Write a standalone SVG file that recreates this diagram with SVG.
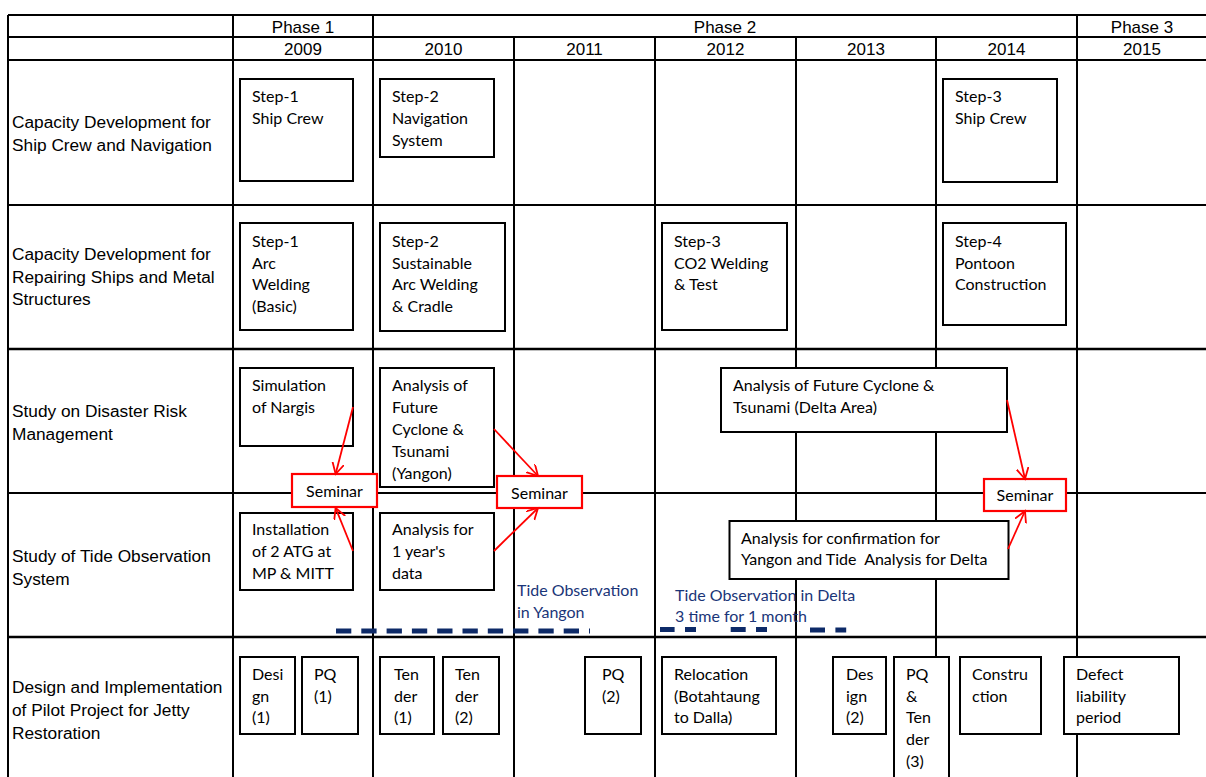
<svg xmlns="http://www.w3.org/2000/svg" width="1206" height="777" viewBox="0 0 1206 777">
<defs>
<style>
.g{stroke:#000;stroke-width:2;fill:none}
.gt{stroke:#000;stroke-width:2.6;fill:none}
.hd{font-family:"Liberation Sans",Arial,sans-serif;font-size:17px;fill:#000;text-anchor:middle}
.lb{font-family:"Liberation Sans",Arial,sans-serif;font-size:17.3px;fill:#000}
.bx{fill:#fff;stroke:#000;stroke-width:2}
.sb{fill:#fff;stroke:#f00;stroke-width:2.2}
.t{font-family:Lato,"Open Sans",sans-serif;font-size:16px;fill:#000}
.tc{font-family:Lato,"Open Sans",sans-serif;font-size:16px;fill:#000;text-anchor:middle}
.bl{font-family:Lato,"Open Sans",sans-serif;font-size:16px;fill:#1a3578}
.ar{stroke:#f00;stroke-width:1.8;fill:none}
.ds{stroke:#0d2a68;stroke-width:5;fill:none}
</style>
<marker id="ah" markerUnits="userSpaceOnUse" markerWidth="14" markerHeight="14" refX="11" refY="6" orient="auto">
<path d="M0,0 L11,6 L0,12" fill="none" stroke="#f00" stroke-width="1.8"/>
</marker>
</defs>
<rect width="1206" height="777" fill="#fff"/>
<g id="grid">
<line class="g" x1="8" y1="15" x2="1206" y2="15"/>
<line class="g" x1="8" y1="37" x2="1206" y2="37"/>
<line class="g" x1="8" y1="60" x2="1206" y2="60"/>
<line class="g" x1="8" y1="205" x2="1206" y2="205"/>
<line class="gt" x1="8" y1="349" x2="1206" y2="349"/>
<line class="g" x1="8" y1="493" x2="1206" y2="493"/>
<line class="gt" x1="8" y1="637" x2="1206" y2="637"/>
<line class="g" x1="8" y1="15" x2="8" y2="777"/>
<line class="g" x1="233" y1="15" x2="233" y2="777"/>
<line class="g" x1="373" y1="15" x2="373" y2="777"/>
<line class="g" x1="514" y1="37" x2="514" y2="777"/>
<line class="g" x1="655" y1="37" x2="655" y2="777"/>
<line class="g" x1="796" y1="37" x2="796" y2="777"/>
<line class="g" x1="936" y1="37" x2="936" y2="777"/>
<line class="g" x1="1077" y1="15" x2="1077" y2="777"/>
</g>
<g id="header">
<text class="hd" x="303" y="33">Phase 1</text>
<text class="hd" x="725" y="33">Phase 2</text>
<text class="hd" x="1142" y="33">Phase 3</text>
<text class="hd" x="303" y="55">2009</text>
<text class="hd" x="443.5" y="55">2010</text>
<text class="hd" x="584.5" y="55">2011</text>
<text class="hd" x="725.5" y="55">2012</text>
<text class="hd" x="866" y="55">2013</text>
<text class="hd" x="1006.5" y="55">2014</text>
<text class="hd" x="1142" y="55">2015</text>
</g>
<g id="row-labels">
<text class="lb" x="12"><tspan x="12" y="128">Capacity Development for</tspan><tspan x="12" y="150.5">Ship Crew and Navigation</tspan></text>
<text class="lb" x="12"><tspan x="12" y="260">Capacity Development for</tspan><tspan x="12" y="282.5">Repairing Ships and Metal</tspan><tspan x="12" y="305">Structures</tspan></text>
<text class="lb" x="12"><tspan x="12" y="417">Study on Disaster Risk</tspan><tspan x="12" y="439.5">Management</tspan></text>
<text class="lb" x="12"><tspan x="12" y="562">Study of Tide Observation</tspan><tspan x="12" y="584.5">System</tspan></text>
<text class="lb" x="12"><tspan x="12" y="693">Design and Implementation</tspan><tspan x="12" y="716">of Pilot Project for Jetty</tspan><tspan x="12" y="739">Restoration</tspan></text>
</g>
<g id="n-step1-crew"><rect class="bx" x="240" y="79" width="113" height="102"/><text class="t"><tspan x="252" y="102">Step-1</tspan><tspan x="252" y="124">Ship Crew</tspan></text></g>
<g id="n-step2-nav"><rect class="bx" x="380" y="79" width="114" height="78"/><text class="t"><tspan x="392" y="102">Step-2</tspan><tspan x="392" y="124">Navigation</tspan><tspan x="392" y="146">System</tspan></text></g>
<g id="n-step3-crew"><rect class="bx" x="943" y="79" width="114" height="103"/><text class="t"><tspan x="955" y="102">Step-3</tspan><tspan x="955" y="124">Ship Crew</tspan></text></g>
<g id="n-step1-arc"><rect class="bx" x="240" y="223" width="113" height="107"/><text class="t"><tspan x="252" y="247">Step-1</tspan><tspan x="252" y="268.5">Arc</tspan><tspan x="252" y="290">Welding</tspan><tspan x="252" y="312">(Basic)</tspan></text></g>
<g id="n-step2-arc"><rect class="bx" x="380" y="223" width="125" height="108"/><text class="t"><tspan x="392" y="247">Step-2</tspan><tspan x="392" y="268.5">Sustainable</tspan><tspan x="392" y="290">Arc Welding</tspan><tspan x="392" y="312">&amp; Cradle</tspan></text></g>
<g id="n-step3-co2"><rect class="bx" x="662" y="223" width="125" height="107"/><text class="t"><tspan x="674" y="247">Step-3</tspan><tspan x="674" y="268.5">CO2 Welding</tspan><tspan x="674" y="290">&amp; Test</tspan></text></g>
<g id="n-step4-pontoon"><rect class="bx" x="943" y="223" width="123" height="102"/><text class="t"><tspan x="955" y="247">Step-4</tspan><tspan x="955" y="268.5">Pontoon</tspan><tspan x="955" y="290">Construction</tspan></text></g>
<g id="n-nargis"><rect class="bx" x="240" y="368" width="113" height="78"/><text class="t"><tspan x="252" y="391">Simulation</tspan><tspan x="252" y="413">of Nargis</tspan></text></g>
<g id="n-yangon-cyclone"><rect class="bx" x="380" y="368" width="114" height="119"/><text class="t"><tspan x="392" y="391">Analysis of</tspan><tspan x="392" y="413">Future</tspan><tspan x="392" y="435">Cyclone &amp;</tspan><tspan x="392" y="457">Tsunami</tspan><tspan x="392" y="479">(Yangon)</tspan></text></g>
<g id="n-delta-cyclone"><rect class="bx" x="721" y="368" width="286" height="64"/><text class="t"><tspan x="733" y="391">Analysis of Future Cyclone &amp;</tspan><tspan x="733" y="413">Tsunami (Delta Area)</tspan></text></g>
<g id="n-atg"><rect class="bx" x="240" y="513" width="113" height="77"/><text class="t"><tspan x="252" y="535">Installation</tspan><tspan x="252" y="557">of 2 ATG at</tspan><tspan x="252" y="579">MP &amp; MITT</tspan></text></g>
<g id="n-year-data"><rect class="bx" x="380" y="513" width="114" height="77"/><text class="t"><tspan x="392" y="535">Analysis for</tspan><tspan x="392" y="557">1 year's</tspan><tspan x="392" y="579">data</tspan></text></g>
<g id="n-delta-confirm"><rect class="bx" x="729.5" y="521" width="279" height="58"/><text class="t"><tspan x="741" y="543.5">Analysis for confirmation for</tspan><tspan x="741" y="565" xml:space="preserve">Yangon and Tide  Analysis for Delta</tspan></text></g>
<g id="n-seminar1"><rect class="sb" x="292" y="474" width="85" height="33"/><text class="tc" x="334.5" y="497">Seminar</text></g>
<g id="n-seminar2"><rect class="sb" x="497" y="476" width="85" height="32"/><text class="tc" x="539.5" y="499">Seminar</text></g>
<g id="n-seminar3"><rect class="sb" x="984" y="479" width="82" height="32"/><text class="tc" x="1025" y="501">Seminar</text></g>
<g id="n-design1"><rect class="bx" x="240" y="657" width="55" height="77"/><text class="t"><tspan x="252" y="680">Desi</tspan><tspan x="252" y="701.5">gn</tspan><tspan x="252" y="723">(1)</tspan></text></g>
<g id="n-pq1"><rect class="bx" x="302" y="657" width="56" height="77"/><text class="t"><tspan x="314" y="680">PQ</tspan><tspan x="314" y="701.5">(1)</tspan></text></g>
<g id="n-tender1"><rect class="bx" x="380" y="657" width="54" height="77"/><text class="t"><tspan x="394" y="680">Ten</tspan><tspan x="394" y="701.5">der</tspan><tspan x="394" y="723">(1)</tspan></text></g>
<g id="n-tender2"><rect class="bx" x="443" y="657" width="56" height="77"/><text class="t"><tspan x="455" y="680">Ten</tspan><tspan x="455" y="701.5">der</tspan><tspan x="455" y="723">(2)</tspan></text></g>
<g id="n-pq2"><rect class="bx" x="585" y="657" width="56" height="77"/><text class="t"><tspan x="602" y="680">PQ</tspan><tspan x="602" y="701.5">(2)</tspan></text></g>
<g id="n-relocation"><rect class="bx" x="662" y="657" width="114" height="77"/><text class="t"><tspan x="674" y="680">Relocation</tspan><tspan x="674" y="701.5">(Botahtaung</tspan><tspan x="674" y="723">to Dalla)</tspan></text></g>
<g id="n-design2"><rect class="bx" x="833" y="657" width="53" height="77"/><text class="t"><tspan x="846" y="680">Des</tspan><tspan x="846" y="701.5">ign</tspan><tspan x="846" y="723">(2)</tspan></text></g>
<g id="n-pq-tender3"><rect class="bx" x="894" y="657" width="55" height="135"/><text class="t"><tspan x="906" y="680">PQ</tspan><tspan x="906" y="701.5">&amp;</tspan><tspan x="906" y="723">Ten</tspan><tspan x="906" y="745">der</tspan><tspan x="906" y="766.5">(3)</tspan></text></g>
<g id="n-construction"><rect class="bx" x="960" y="657" width="81" height="77"/><text class="t"><tspan x="972" y="680">Constru</tspan><tspan x="972" y="701.5">ction</tspan></text></g>
<g id="n-defect"><rect class="bx" x="1064" y="657" width="115" height="77"/><text class="t"><tspan x="1076" y="680">Defect</tspan><tspan x="1076" y="701.5">liability</tspan><tspan x="1076" y="723">period</tspan></text></g>
<g id="connectors">
<line class="ar" x1="353" y1="407" x2="335.6" y2="474" marker-end="url(#ah)"/>
<line class="ar" x1="353" y1="551" x2="335.6" y2="508" marker-end="url(#ah)"/>
<line class="ar" x1="494" y1="429" x2="538" y2="476" marker-end="url(#ah)"/>
<line class="ar" x1="494" y1="551" x2="538" y2="508" marker-end="url(#ah)"/>
<line class="ar" x1="1007" y1="400" x2="1025" y2="479" marker-end="url(#ah)"/>
<line class="ar" x1="1008" y1="549" x2="1025" y2="511" marker-end="url(#ah)"/>
</g>
<g id="tide-observation">
<line class="ds" x1="336" y1="631" x2="590" y2="631" stroke-dasharray="15.3 10"/>
<text class="bl"><tspan x="517" y="596">Tide Observation</tspan><tspan x="517" y="618">in Yangon</tspan></text>
<path class="ds" d="M660,629.5 H674.6 M685,629.5 H696 M730.7,629.5 H745.7 M756,629.5 H767 M810,630 H825 M835.4,630 H846.2"/>
<text class="bl"><tspan x="675" y="600.5">Tide Observation in Delta</tspan><tspan x="675" y="621.5">3 time for 1 month</tspan></text>
</g>
</svg>
